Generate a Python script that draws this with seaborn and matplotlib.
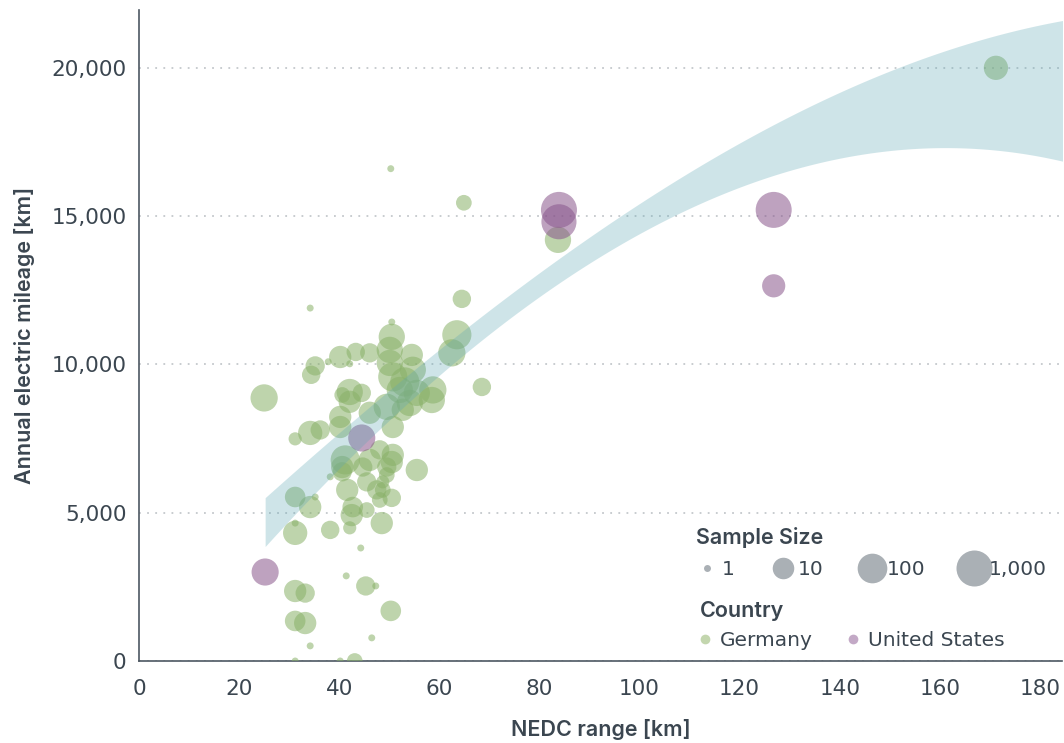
import numpy as np
import pandas as pd
import matplotlib
matplotlib.use("Agg")
import matplotlib.pyplot as plt
from matplotlib.colors import LogNorm
from matplotlib.lines import Line2D
import seaborn as sns

# ---------------- data ----------------
de_range = [171.2, 83.7, 64.9, 50.3, 64.5, 34.2, 63.5, 62.5, 68.5, 25.0,
            40.2, 43.3, 46.1, 37.8, 42.1, 35.2, 34.4, 42.1, 44.5, 40.6,
            50.5, 50.5, 50.1, 54.5, 50.1, 54.7, 50.7, 58.7, 52.1, 55.5,
            49.5, 54.1, 31.2, 34.2, 36.2, 40.2, 40.2, 42.1, 46.1, 41.2,
            40.6, 46.1, 48.1, 44.7, 49.5, 38.2, 40.6, 45.5, 41.6, 47.5,
            31.2, 34.2, 35.2, 42.7, 42.5, 45.5, 48.1, 31.2, 31.2, 38.2,
            42.1, 48.5, 44.3, 31.2, 33.2, 41.4, 45.3, 47.3, 31.2, 33.2,
            50.3, 34.2, 46.5, 31.2, 40.2, 43.1, 58.5, 52.7, 50.7, 50.7,
            50.5, 55.5, 49.5, 48.7, 50.5, 48.7, 53.1]
de_mileage = [20000, 14200, 15450, 16600, 12210, 11900, 11000, 10390, 9240, 8870,
              10250, 10420, 10390, 10090, 10020, 9950, 9650, 9070, 9040, 8970,
              11430, 10930, 10490, 10320, 10050, 9820, 9580, 9140, 9140, 9040,
              8570, 8700, 7490, 7690, 7790, 8230, 7890, 8740, 8370, 6780,
              6540, 6780, 7120, 6540, 6540, 6210, 6380, 6040, 5770, 5770,
              5530, 5190, 5530, 5190, 4920, 5090, 5430, 4320, 4650, 4420,
              4490, 4650, 3810, 2360, 2290, 2870, 2530, 2530, 1350, 1280,
              1690, 510, 780, 0, 0, 0, 8800, 8470, 7890, 6950,
              6710, 6440, 6270, 6040, 5500, 5770, 9410]
de_samples = [20, 35, 3, 1, 5, 1, 85, 47, 5, 47,
              12, 5, 6, 1, 1, 6, 5, 35, 5, 3,
              1, 35, 35, 12, 35, 35, 85, 47, 35, 35,
              35, 35, 2, 20, 6, 12, 12, 12, 12, 85,
              12, 12, 6, 6, 6, 1, 6, 6, 12, 6,
              8, 12, 1, 8, 12, 3, 3, 20, 1, 5,
              2, 12, 1, 12, 6, 1, 6, 1, 8, 12,
              8, 1, 1, 1, 1, 3, 35, 12, 12, 12,
              12, 12, 3, 2, 5, 3, 85]

us_range = [83.9, 83.9, 126.8, 126.8, 25.2, 44.5]
us_mileage = [15210, 14810, 15210, 12650, 3000, 7520]
us_samples = [1000, 700, 1000, 15, 45, 45]

# confidence band edges
band_upper_x = [25.2, 48.8, 58.2, 69.6, 82.8, 96.2, 116.2, 153.6, 184.6]
band_upper_y = [5620, 8780, 10130, 11810, 13490, 15180, 17130, 19950, 21670]
band_lower_x = [25.2, 33.6, 60.2, 72.8, 86.2, 96.2, 116.2, 158.8, 184.6]
band_lower_y = [3870, 5420, 9460, 11470, 13060, 14170, 15610, 17300, 16860]

countries = ["Germany", "United States"]
size_levels = [1, 10, 100, 1000]
size_labels = ["1", "10", "100", "1,000"]
x_ticks = [0, 20, 40, 60, 80, 100, 120, 140, 160, 180]
y_ticks = [0, 5000, 10000, 15000, 20000]
y_tick_labels = ["0", "5,000", "10,000", "15,000", "20,000"]

# ---------------- style ----------------
sns.set_style("white")
plt.rcParams["font.family"] = ["DejaVu Sans"]
TXT = "#3b4650"
FS_TICK = 15.5
FS_LEG = 14.5
HEAD = ["Inter", "DejaVu Sans"]
FS_HEAD = 15.5

colors = {"Germany": "#89b168", "United States": "#89568c"}
light = {"Germany": "#c3d6ae", "United States": "#c3a9c6"}
PT_ALPHA = 0.55
SIZES = (25, 672)

df = pd.concat([
    pd.DataFrame({"range": de_range, "mileage": de_mileage,
                  "samples": de_samples, "country": countries[0]}),
    pd.DataFrame({"range": us_range, "mileage": us_mileage,
                  "samples": us_samples, "country": countries[1]}),
], ignore_index=True)

fig = plt.figure(figsize=(10.64, 7.43), dpi=100)
ax = fig.add_axes([139 / 1064, 82 / 743, 923 / 1064, 651 / 743])

sns.scatterplot(data=df, x="range", y="mileage", hue="country", size="samples",
                sizes=SIZES, size_norm=LogNorm(1, 1000), palette=colors,
                alpha=PT_ALPHA, linewidth=0, legend=False, ax=ax, zorder=3)

# regression confidence band
xs = np.linspace(min(band_upper_x), 184.6, 300)
up = np.polyval(np.polyfit(band_upper_x, band_upper_y, 3), xs)
lo = np.polyval(np.polyfit(band_lower_x, band_lower_y, 3), xs)
ax.fill_between(xs, lo, up, color="#5fa8b5", alpha=0.3, linewidth=0, zorder=4)

ax.set_xlim(0, 184.4)
ax.set_ylim(0, 21950)
ax.set_xticks(x_ticks)
ax.set_xticklabels([str(t) for t in x_ticks])
ax.set_yticks(y_ticks)
ax.set_yticklabels(y_tick_labels)
ax.tick_params(axis="both", length=0, labelsize=FS_TICK, labelcolor=TXT)
ax.tick_params(axis="x", pad=13)
ax.tick_params(axis="y", pad=9)

ax.yaxis.grid(True, linestyle=(0, (1, 3.5)), color="#c4c8cc", linewidth=1.3)
ax.xaxis.grid(False)
ax.set_axisbelow(True)

for s in ["top", "right"]:
    ax.spines[s].set_visible(False)
for s in ["left", "bottom"]:
    ax.spines[s].set_color("#4d5862")
    ax.spines[s].set_linewidth(1.2)

ax.set_xlabel("NEDC range [km]", fontsize=FS_HEAD, color=TXT, fontweight="semibold",
              family=HEAD, labelpad=14)
ax.set_ylabel("Annual electric mileage [km]", fontsize=FS_HEAD, color=TXT,
              fontweight="semibold", family=HEAD, labelpad=12)

# legends
def msize(n):
    frac = np.log10(n) / 3.0
    return np.sqrt(SIZES[0] + (SIZES[1] - SIZES[0]) * frac)

size_handles = [Line2D([], [], linestyle="none", marker="o", markersize=msize(n),
                       markerfacecolor="#aab0b5", markeredgewidth=0)
                for n in size_levels]
leg1 = ax.legend(size_handles, size_labels, title="Sample Size", ncol=4,
                 loc="upper left", bbox_to_anchor=(0.593, 0.221), frameon=False,
                 borderpad=0, handlelength=1.09, handletextpad=0.15, columnspacing=1.9,
                 labelspacing=0.6, fontsize=FS_LEG, labelcolor=TXT,
                 title_fontproperties={"family": HEAD, "weight": "semibold", "size": FS_HEAD})
leg1.get_title().set_color(TXT)
leg1._legend_box.align = "left"
ax.add_artist(leg1)

country_handles = [Line2D([], [], linestyle="none", marker="o", markersize=7,
                          markerfacecolor=light[c], markeredgewidth=0)
                   for c in countries]
leg2 = ax.legend(country_handles, countries, title="Country", ncol=2,
                 loc="upper left", bbox_to_anchor=(0.597, 0.107), frameon=False,
                 borderpad=0, handlelength=0.5, handletextpad=0.5, columnspacing=1.75,
                 labelspacing=0.5, fontsize=FS_LEG, labelcolor=TXT,
                 title_fontproperties={"family": HEAD, "weight": "semibold", "size": FS_HEAD})
leg2.get_title().set_color(TXT)
leg2._legend_box.align = "left"

fig.savefig("out.png", dpi=100)
